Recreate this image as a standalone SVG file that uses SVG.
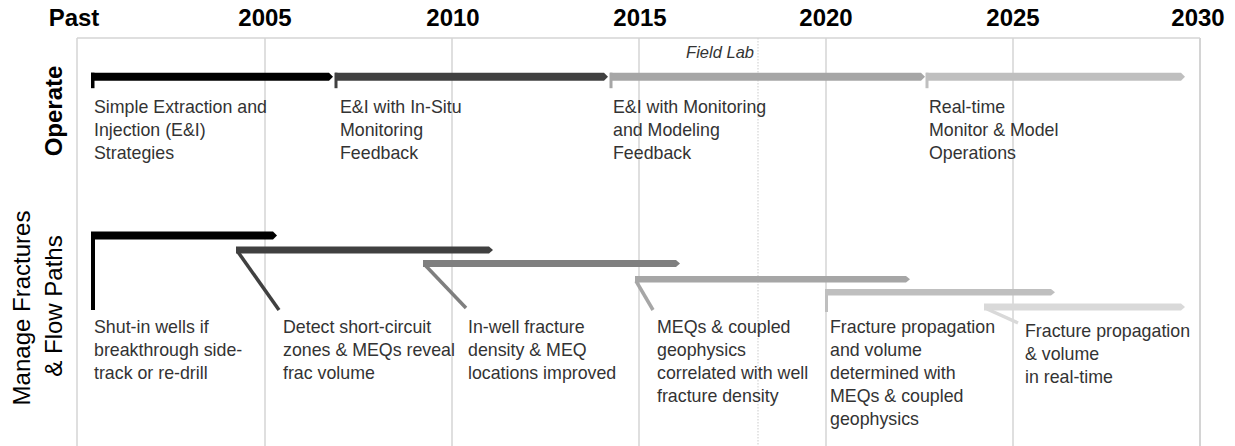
<svg xmlns="http://www.w3.org/2000/svg" width="1235" height="446" viewBox="0 0 1235 446">
  <style>
    .grid { stroke: #d4d4d4; stroke-width: 1.5; fill: none; }
    .dot { stroke: #d4d4d4; stroke-width: 1.2; stroke-dasharray: 1.5 1.5; fill: none; }
    .year { font-family: "Liberation Sans", Arial, sans-serif; font-weight: bold; font-size: 24px; fill: #000; text-anchor: middle; }
    .lbl { font-family: "Liberation Sans", Arial, sans-serif; font-size: 17.8px; fill: #333; }
    .row { font-family: "Liberation Sans", Arial, sans-serif; font-size: 24px; fill: #000; text-anchor: middle; }
    .fl { font-family: "Liberation Sans", Arial, sans-serif; font-style: italic; font-size: 16.5px; fill: #333; text-anchor: end; }
  </style>
  <rect width="1235" height="446" fill="#fff"/>

  <g id="grid">
    <line class="grid" x1="77" y1="38" x2="1200" y2="38"/>
    <line class="grid" x1="77" y1="38" x2="77" y2="446"/>
    <line class="grid" x1="265" y1="38" x2="265" y2="446"/>
    <line class="grid" x1="452" y1="38" x2="452" y2="446"/>
    <line class="grid" x1="639" y1="38" x2="639" y2="446"/>
    <line class="dot" x1="758" y1="38" x2="758" y2="446"/>
    <line class="grid" x1="826" y1="38" x2="826" y2="446"/>
    <line class="grid" x1="1013" y1="38" x2="1013" y2="446"/>
    <line class="grid" x1="1200" y1="38" x2="1200" y2="446" style="stroke-width:2"/>
  </g>

  <g id="years">
    <text class="year" x="74" y="26">Past</text>
    <text class="year" x="265" y="26">2005</text>
    <text class="year" x="453" y="26">2010</text>
    <text class="year" x="640" y="26">2015</text>
    <text class="year" x="826" y="26">2020</text>
    <text class="year" x="1013" y="26">2025</text>
    <text class="year" x="1198" y="26">2030</text>
  </g>

  <g id="row-labels">
    <text class="row" font-weight="bold" transform="translate(62 111) rotate(-90)">Operate</text>
    <text class="row" transform="translate(30 308) rotate(-90)">Manage Fractures</text>
    <text class="row" transform="translate(62 306) rotate(-90)">&amp; Flow Paths</text>
  </g>

  <text id="field-lab" class="fl" x="754" y="58">Field Lab</text>

  <g id="connectors">
    <!-- Operate row -->
    <polygon fill="#000" points="91,72.7 329,72.7 333,76.7 329,80.7 91,80.7"/>
    <rect fill="#000" x="91" y="72.7" width="3.5" height="15.5"/>
    <polygon fill="#404040" points="335,72.7 604,72.7 608,76.7 604,80.7 335,80.7"/>
    <rect fill="#404040" x="334.5" y="72.7" width="3" height="15.5"/>
    <polygon fill="#a6a6a6" points="610,72.7 921,72.7 925,76.7 921,80.7 610,80.7"/>
    <rect fill="#a6a6a6" x="609.5" y="72.7" width="3" height="15.5"/>
    <polygon fill="#bfbfbf" points="926,72.7 1181,72.7 1185,76.7 1181,80.7 926,80.7"/>
    <rect fill="#bfbfbf" x="925.5" y="72.7" width="3" height="15.5"/>

    <!-- Manage row -->
    <polygon fill="#000" points="91,231.5 273,231.5 277,235.5 273,239.5 95,239.5 95,310 91,310"/>
    <polygon fill="#404040" points="236,246.5 489,246.5 493,250 489,253.5 236,253.5"/>
    <line stroke="#404040" stroke-width="3.5" x1="238" y1="252" x2="279" y2="310"/>
    <polygon fill="#7f7f7f" points="423,260 676,260 680,263.5 676,267 423,267"/>
    <line stroke="#7f7f7f" stroke-width="3.5" x1="425" y1="265" x2="466" y2="308"/>
    <polygon fill="#a6a6a6" points="635,276 906,276 910,279.3 906,282.6 635,282.6"/>
    <line stroke="#a6a6a6" stroke-width="3.5" x1="636" y1="281" x2="653" y2="310"/>
    <polygon fill="#bfbfbf" points="826,289 1051,289 1055,292.3 1051,295.6 826,295.6"/>
    <rect fill="#bfbfbf" x="825" y="289" width="3" height="23"/>
    <polygon fill="#d9d9d9" points="984,303.5 1181,303.5 1185,307 1181,310.5 984,310.5"/>
    <line stroke="#d9d9d9" stroke-width="3.5" x1="987" y1="309" x2="1018" y2="323"/>
  </g>

  <g id="op1"><text class="lbl" x="94" y="113">Simple Extraction and<tspan x="94" y="136">Injection (E&amp;I)</tspan><tspan x="94" y="159">Strategies</tspan></text></g>
  <g id="op2"><text class="lbl" x="340" y="113">E&amp;I with In-Situ<tspan x="340" y="136">Monitoring</tspan><tspan x="340" y="159">Feedback</tspan></text></g>
  <g id="op3"><text class="lbl" x="613" y="113">E&amp;I with Monitoring<tspan x="613" y="136">and Modeling</tspan><tspan x="613" y="159">Feedback</tspan></text></g>
  <g id="op4"><text class="lbl" x="929" y="113">Real-time<tspan x="929" y="136">Monitor &amp; Model</tspan><tspan x="929" y="159">Operations</tspan></text></g>

  <g id="mf1"><text class="lbl" x="94" y="333">Shut-in wells if<tspan x="94" y="356">breakthrough side-</tspan><tspan x="94" y="379">track or re-drill</tspan></text></g>
  <g id="mf2"><text class="lbl" x="283" y="333">Detect short-circuit<tspan x="283" y="356">zones &amp; MEQs reveal</tspan><tspan x="283" y="379">frac volume</tspan></text></g>
  <g id="mf3"><text class="lbl" x="468" y="333">In-well fracture<tspan x="468" y="356">density &amp; MEQ</tspan><tspan x="468" y="379">locations improved</tspan></text></g>
  <g id="mf4"><text class="lbl" x="657" y="333">MEQs &amp; coupled<tspan x="657" y="356">geophysics</tspan><tspan x="657" y="379">correlated with well</tspan><tspan x="657" y="402">fracture density</tspan></text></g>
  <g id="mf5"><text class="lbl" x="830" y="333">Fracture propagation<tspan x="830" y="356">and volume</tspan><tspan x="830" y="379">determined with</tspan><tspan x="830" y="402">MEQs &amp; coupled</tspan><tspan x="830" y="425">geophysics</tspan></text></g>
  <g id="mf6"><text class="lbl" x="1025" y="337">Fracture propagation<tspan x="1025" y="360">&amp; volume</tspan><tspan x="1025" y="383">in real-time</tspan></text></g>
</svg>
